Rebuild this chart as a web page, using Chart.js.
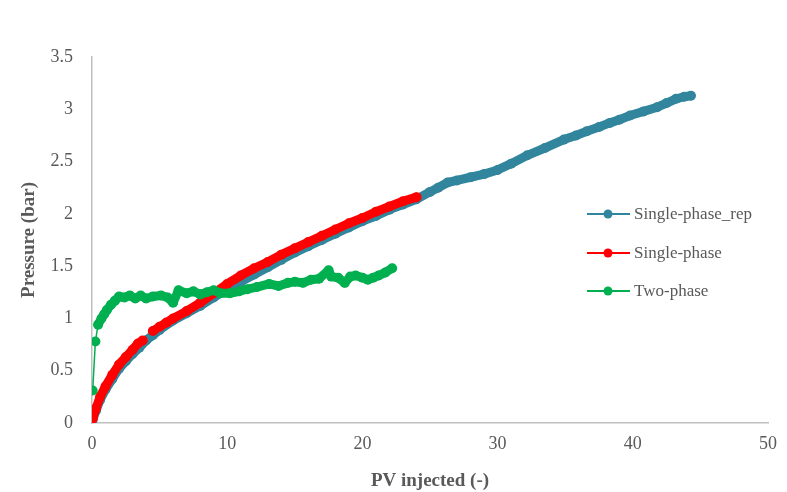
<!DOCTYPE html>
<html>
<head>
<meta charset="utf-8">
<script src="https://cdn.jsdelivr.net/npm/chart.js@4.4.1/dist/chart.umd.min.js"></script>
<style>
  html, body { margin: 0; padding: 0; background: #fff; }
  #wrap { width: 787px; height: 492px; }
</style>
</head>
<body>
<div id="wrap"><canvas id="pressureChart" width="787" height="492"></canvas></div>
<script>
// data
const repX = [0.05, 0.3, 0.6, 1.0, 1.5, 2.0, 2.5, 3.0, 3.5, 4.0, 4.5, 5.0, 6.0, 7.0, 8.0, 9.0, 10.0, 11.0, 12.0, 13.0, 14.0, 15.0, 16.0, 17.0, 18.0, 19.0, 20.0, 21.0, 22.0, 23.0, 24.0, 25.0, 25.6, 26.3, 27.0, 28.0, 29.0, 30.0, 31.0, 32.2, 33.5, 34.9, 35.8, 36.6, 37.5, 38.3, 39.0, 39.8, 40.8, 41.8, 42.5, 43.2, 43.8, 44.3];
const repY = [0.03, 0.12, 0.22, 0.32, 0.42, 0.52, 0.59, 0.66, 0.72, 0.79, 0.84, 0.89, 0.98, 1.05, 1.12, 1.20, 1.28, 1.35, 1.42, 1.49, 1.56, 1.63, 1.69, 1.75, 1.81, 1.87, 1.93, 1.98, 2.04, 2.09, 2.14, 2.21, 2.25, 2.30, 2.32, 2.35, 2.38, 2.42, 2.48, 2.56, 2.63, 2.71, 2.75, 2.79, 2.83, 2.87, 2.90, 2.94, 2.98, 3.02, 3.06, 3.10, 3.12, 3.13];

const singleX = [0.05, 0.3, 0.6, 1.0, 1.5, 2.0, 2.5, 3.0, 3.4, 3.75, 4.1, 4.5, 5.0, 5.5, 6.0, 7.0, 8.0, 9.0, 10.0, 11.0, 12.0, 13.0, 14.0, 15.0, 16.0, 17.0, 18.0, 19.0, 20.0, 21.0, 22.0, 23.0, 24.0];
const singleY = [0.04, 0.14, 0.25, 0.35, 0.46, 0.56, 0.63, 0.70, 0.76, 0.79, null, 0.88, 0.92, 0.96, 1.00, 1.07, 1.15, 1.24, 1.33, 1.41, 1.48, 1.54, 1.61, 1.67, 1.73, 1.79, 1.85, 1.91, 1.96, 2.02, 2.07, 2.12, 2.16];

const twoX = [0.05, 0.25, 0.45, 0.7, 0.9, 1.1, 1.4, 1.7, 2.0, 2.4, 2.8, 3.2, 3.6, 4.0, 4.5, 5.1, 5.6, 6.0, 6.4, 7.0, 7.5, 8.0, 8.5, 9.0, 9.5, 10.2, 10.9, 11.5, 12.2, 13.1, 13.8, 14.5, 15.0, 15.6, 16.2, 16.8, 17.5, 17.7, 18.2, 18.7, 19.1, 19.5, 20.0, 20.4, 20.8, 21.2, 21.7, 22.2];
const twoY = [0.31, 0.78, 0.94, 1.00, 1.04, 1.08, 1.13, 1.17, 1.21, 1.20, 1.22, 1.19, 1.22, 1.19, 1.21, 1.22, 1.20, 1.15, 1.27, 1.24, 1.26, 1.23, 1.25, 1.27, 1.24, 1.24, 1.26, 1.28, 1.30, 1.33, 1.31, 1.34, 1.35, 1.34, 1.37, 1.38, 1.46, 1.40, 1.39, 1.34, 1.40, 1.41, 1.39, 1.37, 1.39, 1.41, 1.44, 1.48];

const xTicks = [0, 10, 20, 30, 40, 50];
const yTicks = [0, 0.5, 1, 1.5, 2, 2.5, 3, 3.5];

const seriesNames = ['Single-phase_rep', 'Single-phase', 'Two-phase'];
const seriesColors = ['#31859C', '#FF0000', '#00B050'];

const textGrey = '#595959';
const serif = '"Liberation Serif", "Times New Roman", serif';

function toPoints(xs, ys) {
    return xs.map((x, i) => ({ x: x, y: ys[i] }));
}

// legend drawn inside the plot, like the original
const sideLegend = {
    id: 'sideLegend',
    afterDraw(chart) {
        const ctx = chart.ctx;
        const rows = [214, 253, 291];
        ctx.save();
        seriesNames.forEach((name, i) => {
            const y = rows[i];
            ctx.strokeStyle = seriesColors[i];
            ctx.lineWidth = 2;
            ctx.beginPath();
            ctx.moveTo(587, y);
            ctx.lineTo(630, y);
            ctx.stroke();
            ctx.fillStyle = seriesColors[i];
            ctx.beginPath();
            ctx.arc(608, y, 4.5, 0, Math.PI * 2);
            ctx.fill();
            ctx.fillStyle = textGrey;
            ctx.font = '17px ' + serif;
            ctx.textBaseline = 'middle';
            ctx.textAlign = 'left';
            ctx.fillText(name, 634, y + 1);
        });
        ctx.restore();
    }
};

// thin line only where the two-phase points are far apart (first rise)
const thinStart = c => (c.p0DataIndex < 2 ? 1.5 : 9);

const datasets = [
    { data: toPoints(repX, repY), order: 2, segment: {} },
    { data: toPoints(singleX, singleY), order: 1, segment: {} },
    { data: toPoints(twoX, twoY), order: 0, segment: { borderWidth: thinStart } }
].map((d, i) => ({
    label: seriesNames[i],
    data: d.data,
    order: d.order,
    showLine: true,
    spanGaps: false,
    borderColor: seriesColors[i],
    backgroundColor: seriesColors[i],
    borderWidth: 9,
    segment: d.segment,
    borderCapStyle: 'round',
    borderJoinStyle: 'round',
    pointRadius: 5,
    pointBorderWidth: 0,
    pointHoverRadius: 5
}));

const ctx = document.getElementById('pressureChart').getContext('2d');
const pressureChart = new Chart(ctx, {
    type: 'scatter',
    data: { datasets: datasets },
    plugins: [sideLegend],
    options: {
        responsive: false,
        animation: false,
        layout: { padding: { top: 57, right: 15, left: 18, bottom: 0 } },
        plugins: {
            legend: { display: false },
            tooltip: { enabled: false }
        },
        scales: {
            x: {
                type: 'linear',
                min: 0,
                max: 50,
                afterBuildTicks: axis => { axis.ticks = xTicks.map(v => ({ value: v })); },
                afterFit: axis => { axis.height = 69; },
                grid: { display: false, drawTicks: false },
                border: { display: true, color: '#BFBFBF', width: 1.5 },
                ticks: {
                    padding: 10,
                    color: textGrey,
                    font: { family: serif, size: 18 },
                    callback: v => String(v)
                },
                title: {
                    display: true,
                    text: 'PV injected (-)',
                    color: textGrey,
                    font: { family: serif, size: 19, weight: 'bold' },
                    padding: { top: 0, bottom: 0 }
                }
            },
            y: {
                type: 'linear',
                min: 0,
                max: 3.5,
                afterBuildTicks: axis => { axis.ticks = yTicks.map(v => ({ value: v })); },
                afterFit: axis => { axis.width = 74; },
                grid: { display: false, drawTicks: false },
                border: { display: true, color: '#BFBFBF', width: 1.5 },
                ticks: {
                    padding: 19,
                    color: textGrey,
                    font: { family: serif, size: 18 },
                    callback: v => String(v)
                },
                title: {
                    display: true,
                    text: 'Pressure (bar)',
                    color: textGrey,
                    font: { family: serif, size: 19, weight: 'bold' },
                    padding: { top: 0, bottom: 0 }
                }
            }
        }
    }
});
</script>
</body>
</html>
